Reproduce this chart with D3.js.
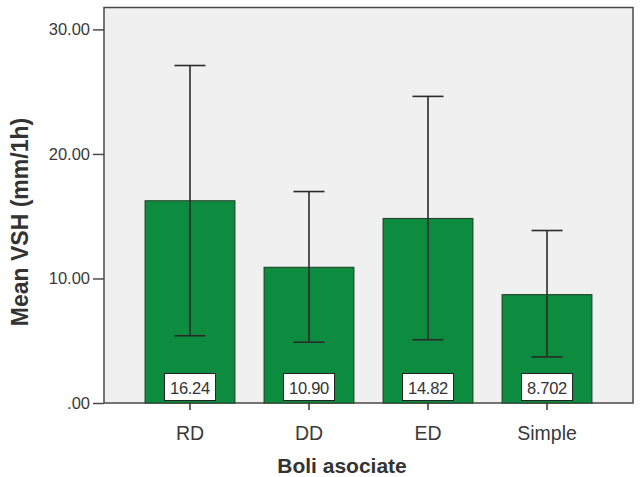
<!DOCTYPE html>
<html>
<head>
<meta charset="utf-8">
<script src="https://cdn.jsdelivr.net/npm/d3@7"></script>
<style>
  html, body { margin: 0; padding: 0; background: #fff; }
  svg { display: block; font-family: Arial, "Liberation Sans", sans-serif; }
</style>
</head>
<body>
<svg id="chart" width="641" height="477"></svg>
<script>
// Mean ESR by associated disease group, with error bars
const categories = ["RD", "DD", "ED", "Simple"];
const means = [16.24, 10.90, 14.82, 8.702];
const meanLabels = ["16.24", "10.90", "14.82", "8.702"];
const upper = [27.10, 16.98, 24.62, 13.85];
const lower = [5.40, 4.88, 5.08, 3.70];
const yTicks = [0, 10, 20, 30];
const yTickLabels = [".00", "10.00", "20.00", "30.00"];

const svg = d3.select("#chart");
const plot = { left: 104, right: 633, top: 7.5, bottom: 403 };

const y = d3.scaleLinear().domain([0, 30]).range([plot.bottom, 29.4]);
const x = d3.scaleBand()
  .domain(categories)
  .range([plot.left, plot.right])
  .paddingInner(0.245)
  .paddingOuter(0.345);

// plot background and frame
svg.append("rect")
  .attr("x", plot.left).attr("y", plot.top)
  .attr("width", plot.right - plot.left).attr("height", plot.bottom - plot.top)
  .attr("fill", "#f0f0f0")
  .attr("stroke", "#4a4a4a").attr("stroke-width", 1.5);

// bars
svg.append("g").selectAll("rect")
  .data(categories)
  .join("rect")
  .attr("x", d => x(d))
  .attr("y", (d, i) => y(means[i]))
  .attr("width", x.bandwidth())
  .attr("height", (d, i) => y(0) - y(means[i]))
  .attr("fill", "#0d8b3f")
  .attr("stroke", "#1f3a26").attr("stroke-width", 1);

// error bars
const eb = svg.append("g").attr("stroke", "#2a2a2a").attr("stroke-width", 1.6).attr("fill", "none");
const cap = 15.5;
categories.forEach((c, i) => {
  const cx = x(c) + x.bandwidth() / 2;
  eb.append("line").attr("x1", cx).attr("x2", cx).attr("y1", y(upper[i])).attr("y2", y(lower[i]));
  eb.append("line").attr("x1", cx - cap).attr("x2", cx + cap).attr("y1", y(upper[i])).attr("y2", y(upper[i]));
  eb.append("line").attr("x1", cx - cap).attr("x2", cx + cap).attr("y1", y(lower[i])).attr("y2", y(lower[i]));
});

// value labels in boxes at the bar base
const lab = svg.append("g");
categories.forEach((c, i) => {
  const cx = x(c) + x.bandwidth() / 2;
  lab.append("rect")
    .attr("x", cx - 25.5).attr("y", 373.5)
    .attr("width", 51).attr("height", 27)
    .attr("fill", "#ffffff").attr("stroke", "#222").attr("stroke-width", 1);
  lab.append("text")
    .attr("x", cx).attr("y", 393.5)
    .attr("text-anchor", "middle")
    .attr("font-size", 16.5)
    .attr("letter-spacing", -0.3)
    .attr("fill", "#333")
    .text(meanLabels[i]);
});

// y axis
const yAxis = d3.axisLeft(y)
  .tickValues(yTicks)
  .tickFormat((d, i) => yTickLabels[i])
  .tickSize(11)
  .tickPadding(3);
const gy = svg.append("g").attr("transform", `translate(${plot.left},0)`).call(yAxis);
gy.select(".domain").remove();
gy.selectAll(".tick line").attr("stroke", "#4a4a4a").attr("stroke-width", 1.5);
gy.selectAll(".tick text")
  .attr("font-size", 16.5).attr("fill", "#3a3a3a")
  .attr("font-family", "Arial, 'Liberation Sans', sans-serif");

// x axis
const xAxis = d3.axisBottom(x).tickSize(7).tickPadding(16);
const gx = svg.append("g").attr("transform", `translate(0,${plot.bottom})`).call(xAxis);
gx.select(".domain").remove();
gx.selectAll(".tick line").attr("stroke", "#333").attr("stroke-width", 1.5);
gx.selectAll(".tick text")
  .attr("font-size", 19.5).attr("fill", "#3a3a3a")
  .attr("font-family", "Arial, 'Liberation Sans', sans-serif");

// axis titles
svg.append("text")
  .attr("x", 342).attr("y", 473)
  .attr("text-anchor", "middle")
  .attr("font-size", 21).attr("font-weight", "bold").attr("fill", "#333")
  .text("Boli asociate");

svg.append("text")
  .attr("transform", "translate(28,222) rotate(-90)")
  .attr("text-anchor", "middle")
  .attr("font-size", 23).attr("font-weight", "bold").attr("fill", "#333")
  .text("Mean VSH (mm/1h)");
</script>
</body>
</html>
